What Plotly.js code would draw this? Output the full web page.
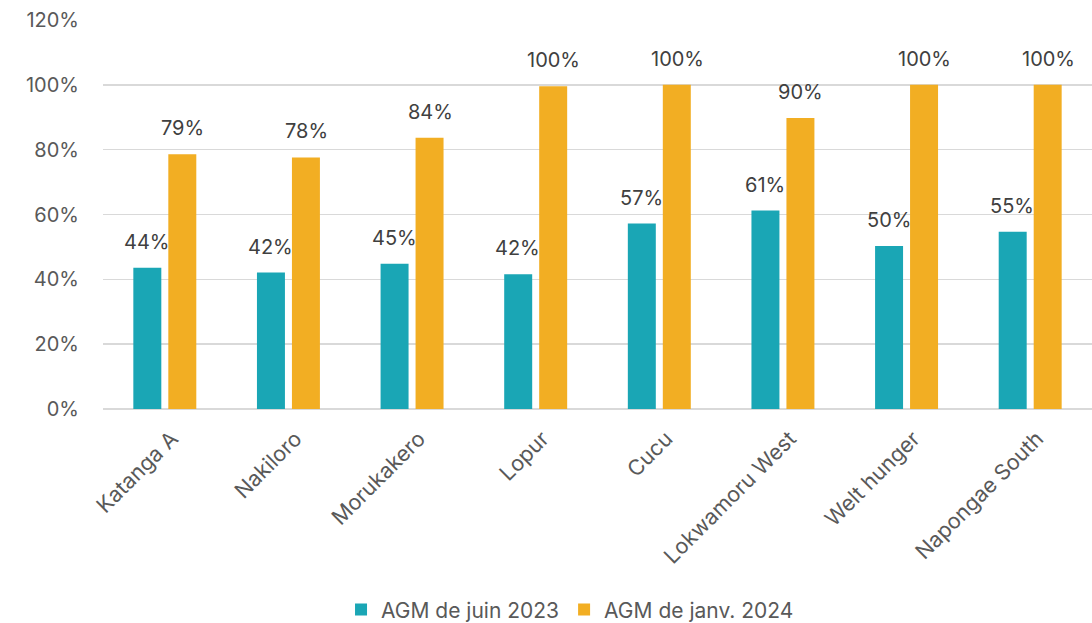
<!DOCTYPE html>
<html>
<head>
<meta charset="utf-8">
<script src="https://cdn.plot.ly/plotly-3.0.1.min.js"></script>
<style>html,body{margin:0;padding:0;background:#fff;}#chart{width:1092px;height:623px;}</style>
</head>
<body>
<div id="chart"></div>
<script>
const categories = ["Katanga A", "Nakiloro", "Morukakero", "Lopur", "Cucu", "Lokwamoru West", "Welt hunger", "Napongae South"];
const juin2023 = [0.436, 0.421, 0.448, 0.416, 0.572, 0.612, 0.503, 0.547];
const janv2024 = [0.786, 0.776, 0.837, 0.996, 1.0, 0.898, 1.0, 1.0];
const seriesNames = ["AGM de juin 2023", "AGM de janv. 2024"];
const yTicks = [0, 0.2, 0.4, 0.6, 0.8, 1.0, 1.2];
const colors = ['#1AA6B5', '#F2AE23'];

const FONT = "Inter, 'Open Sans', sans-serif";
const traces = [juin2023, janv2024].map((vals, i) => ({
  type: 'bar',
  x: categories,
  y: vals,
  name: seriesNames[i],
  marker: {color: colors[i]},
  hoverinfo: 'skip'
}));

// value labels as annotations, derived from the data arrays
const annotations = [];
[juin2023, janv2024].forEach((vals, i) => {
  vals.forEach((v, j) => {
    annotations.push({
      x: categories[j], y: v, xref: 'x', yref: 'y',
      text: Math.round(v * 100) + '%',
      showarrow: false,
      xshift: i === 0 ? -18 : 18,
      yshift: 12,
      yanchor: 'bottom',
      font: {family: FONT, size: 20, color: '#404040'}
    });
  });
});

const layout = {
  width: 1092, height: 623,
  margin: {l: 103, r: 0, t: 20, b: 214},
  paper_bgcolor: '#fff', plot_bgcolor: '#fff',
  barmode: 'group',
  bargap: 0.434,
  bargroupgap: 0.2,
  font: {family: FONT, size: 20, color: '#595959'},
  annotations: annotations,
  xaxis: {
    tickangle: -45,
    tickfont: {family: FONT, size: 21.5, color: '#595959'},
    showgrid: false, showline: false, ticks: '',
    ticklabelshift: 7, ticklabelstandoff: 12
  },
  yaxis: {
    range: [0, 1.2],
    tickvals: yTicks,
    tickformat: '.0%',
    tickfont: {family: FONT, size: 20, color: '#595959'},
    gridcolor: '#D9D9D9', gridwidth: 1.5,
    zeroline: true, zerolinecolor: '#D9D9D9', zerolinewidth: 1.5,
    ticks: '', ticklabelstandoff: 23
  },
  legend: {
    orientation: 'h',
    xref: 'container', yref: 'container',
    x: 0.522, xanchor: 'center',
    y: 0.021, yanchor: 'middle',
    font: {family: FONT, size: 21, color: '#595959'},
    itemwidth: 30
  },
  showlegend: true
};
Plotly.newPlot('chart', traces, layout, {displayModeBar: false, staticPlot: true});
</script>
</body>
</html>
